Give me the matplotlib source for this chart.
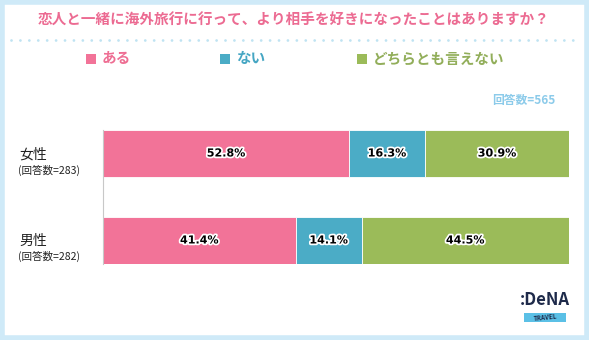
import matplotlib
matplotlib.use("Agg")
import matplotlib.pyplot as plt
import matplotlib.patheffects as pe
from matplotlib.patches import Rectangle
from matplotlib.lines import Line2D

plt.rcParams['font.family'] = ['Noto Sans CJK JP', 'DejaVu Sans']

title = "恋人と一緒に海外旅行に行って、より相手を好きになったことはありますか？"
series_names = ["ある", "ない", "どちらとも言えない"]
colors = ["#F27398", "#4BACC6", "#9BBB59"]
text_colors = ["#EE6E93", "#45A6C3", "#92AE5A"]
groups = ["女性", "男性"]
group_n = ["(回答数=283)", "(回答数=282)"]
values = {
    "ある": [52.8, 41.4],
    "ない": [16.3, 14.1],
    "どちらとも言えない": [30.9, 44.5],
}
total_label = "回答数=565"

W, H = 589, 340
fig = plt.figure(figsize=(W / 100, H / 100), dpi=100)
fig.patch.set_facecolor("white")

def fx(x): return x / W
def fy(y): return 1 - y / H

# border
fig.patches.append(Rectangle((fx(2), fy(338)), fx(585), 336 / H, transform=fig.transFigure,
                             fill=False, edgecolor="#CFEAF8", linewidth=4))

# title
fig.text(fx(294), fy(20), title, ha="center", va="center", fontsize=10.5,
         fontweight="bold", color="#EC6B92")
# dotted line
fig.lines.append(Line2D([fx(11), fx(580)], [fy(40), fy(40)], transform=fig.transFigure,
                        color="#BFE3F2", linewidth=2.0, linestyle=(0, (0.01, 3.2)),
                        dash_capstyle="round"))

# legend
leg_x = [86, 220, 357]
for x, name, c, tc in zip(leg_x, series_names, colors, text_colors):
    fig.patches.append(Rectangle((fx(x), fy(64)), fx(10), 10 / H, transform=fig.transFigure,
                                 facecolor=c, edgecolor="none"))
    fig.text(fx(x + 16), fy(58.5), name, ha="left", va="center", fontsize=10.5,
             fontweight="bold", color=tc)

fig.text(fx(555), fy(100), total_label, ha="right", va="center", fontsize=8.5,
         fontweight="bold", color="#8CCBEA")

# axes
top, bottom = 130, 264
ax = fig.add_axes([fx(103), fy(bottom), (569 - 103) / W, (bottom - top) / H])
h = 47 / 87
ypos = list(range(len(groups)))
left = [0.0] * len(groups)
for name, c in zip(series_names, colors):
    vals = values[name]
    ax.barh(ypos, vals, left=left, height=h, color=c, edgecolor="white", linewidth=0.6)
    for y, v, l in zip(ypos, vals, left):
        t = ax.text(l + v / 2, y, f"{v:.1f}%", ha="center", va="center", fontsize=8,
                    fontweight="bold", color="black", family=["DejaVu Sans"])
        t.set_path_effects([pe.withStroke(linewidth=2.5, foreground="white")])
    left = [a + b for a, b in zip(left, vals)]

ax.set_xlim(0, 100)
ax.set_ylim(1 + h / 2, -h / 2)
for s in ["top", "right", "bottom"]:
    ax.spines[s].set_visible(False)
ax.spines["left"].set_color("#C8C8C8")
ax.spines["left"].set_linewidth(0.8)
ax.set_xticks([])
ax.set_yticks([])

# group labels
label_y = [155, 241]
for g, n, y in zip(groups, group_n, label_y):
    fig.text(fx(19), fy(y), g, ha="left", va="center", fontsize=10, color="#222222")
    fig.text(fx(18), fy(y + 15), n, ha="left", va="center", fontsize=7.6, color="#222222")

# logo
fig.text(fx(545), fy(300), ":DeNA", ha="center", va="center", fontsize=12,
         fontweight="bold", color="#1E2A4A", style="italic")
lg = Rectangle((fx(524), fy(322)), fx(42), 9 / H, transform=fig.transFigure,
               facecolor="#5BC0E6", edgecolor="none")
fig.patches.append(lg)
fig.text(fx(545), fy(317.5), "TRAVEL", ha="center", va="center", fontsize=4.5,
         fontweight="bold", color="#1E2A4A", rotation=6)

fig.savefig("out.png", dpi=100)
